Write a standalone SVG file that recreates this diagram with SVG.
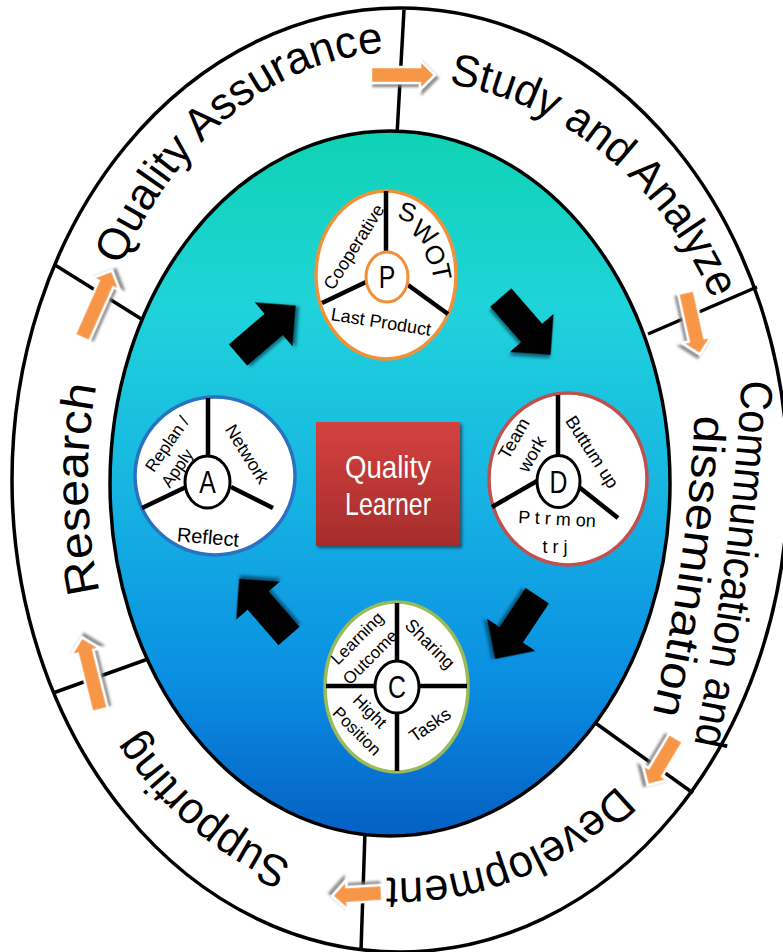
<svg xmlns="http://www.w3.org/2000/svg" width="783" height="952" viewBox="0 0 783 952">
<defs>
<style>
.ring{font-family:"Liberation Sans",Arial,sans-serif;font-size:45px;fill:#000}
.sm{font-family:"Liberation Sans",Arial,sans-serif;font-size:18px;fill:#000;text-anchor:middle}
.s17{font-size:17px}
.big{font-family:"Liberation Sans",Arial,sans-serif;font-size:31px;fill:#000;text-anchor:middle}
.spoke{stroke:#000;stroke-width:4.5;fill:none;stroke-linecap:butt}
.div{stroke:#000;stroke-width:3.5;fill:none}
.blk{fill:#000;filter:url(#bsh)}
.org{fill:#f79646;stroke:#fff;stroke-width:2.5;filter:url(#osh)}
.wt{font-family:"Liberation Sans",Arial,sans-serif;font-size:32px;fill:#fff;text-anchor:middle}
</style>
<linearGradient id="bg" x1="0" y1="0" x2="0" y2="1">
<stop offset="0" stop-color="#0fd3b3"/>
<stop offset="0.25" stop-color="#1fd3da"/>
<stop offset="0.5" stop-color="#17b6e2"/>
<stop offset="0.78" stop-color="#0a8ee2"/>
<stop offset="1" stop-color="#0560c4"/>
</linearGradient>
<linearGradient id="rg" x1="0" y1="0" x2="0" y2="1">
<stop offset="0" stop-color="#d4423f"/>
<stop offset="1" stop-color="#a52c2b"/>
</linearGradient>
<filter id="bsh" x="-30%" y="-30%" width="160%" height="160%"><feDropShadow dx="2" dy="3" stdDeviation="1.5" flood-color="#002a40" flood-opacity="0.6"/></filter>
<filter id="osh" x="-30%" y="-30%" width="160%" height="160%"><feDropShadow dx="2.5" dy="3" stdDeviation="1" flood-color="#777" flood-opacity="0.8"/></filter>
<filter id="rsh" x="-10%" y="-10%" width="120%" height="120%"><feDropShadow dx="2" dy="2" stdDeviation="1.5" flood-color="#223" flood-opacity="0.7"/></filter>
<path id="bA" d="M0,-14 H47 V-29 L76,0 L47,29 V14 H0 Z"/>
<path id="pQA" d="M121.1,266 A322,428 0 0 1 561,109.3"/>
<path id="pSA" d="M448.7,83.9 A350,400 0 0 1 744.7,410.5"/>
<path id="pCA" d="M742,372 Q733,557.5 692,755"/>
<path id="pDI" d="M695,405 Q689,570 645,745"/>
<path id="pDE" d="M617.3,784.9 A338,398 0 0 1 231,824.7"/>
<path id="pSU" d="M292,862 A335,405 0 0 1 66.3,515.3"/>
<path id="pRE" d="M99.8,592 A312,405 0 0 1 144.4,247.7"/>
</defs>
<rect width="783" height="952" fill="#fff"/>

<g id="outer-ring">
<ellipse cx="400" cy="480" rx="388" ry="472" fill="#fff" stroke="#000" stroke-width="3.5"/>
</g>

<g id="connectors">
<path class="div" d="M404,10 L397,135"/>
<path class="div" d="M648,334 L757,287"/>
<path class="div" d="M594,722 L693,793"/>
<path class="div" d="M365,832 L361,950"/>
<path class="div" d="M148,659 L53,693"/>
<path class="div" d="M55,265 L143,320"/>
</g>

<g id="inner-field">
<ellipse cx="390" cy="483.5" rx="280" ry="352.5" fill="url(#bg)" stroke="#000" stroke-width="3.5"/>
</g>

<g id="ring-labels">
<text class="ring"><textPath href="#pQA" textLength="356" lengthAdjust="spacingAndGlyphs">Quality Assurance</textPath></text>
<text class="ring"><textPath href="#pSA" textLength="355" lengthAdjust="spacingAndGlyphs">Study and Analyze</textPath></text>
<text class="ring"><textPath href="#pCA" startOffset="8" textLength="368" lengthAdjust="spacingAndGlyphs">Communication and</textPath></text>
<text class="ring"><textPath href="#pDI" startOffset="10" textLength="302" lengthAdjust="spacingAndGlyphs">dissemination</textPath></text>
<text class="ring"><textPath href="#pDE" textLength="256" lengthAdjust="spacingAndGlyphs">Development</textPath></text>
<text class="ring"><textPath href="#pSU" textLength="206" lengthAdjust="spacingAndGlyphs">Supporting</textPath></text>
<text class="ring" style="font-size:46px"><textPath href="#pRE" textLength="208" lengthAdjust="spacingAndGlyphs">Research</textPath></text>
</g>

<g id="cycle-arrows">
<path class="org" d="M0,-8 H49 V-15 L64,0 L49,15 V8 H0 Z" transform="translate(371,75)"/>
<path class="org" d="M0,-8 H49 V-15 L64,0 L49,15 V8 H0 Z" transform="translate(686,292) rotate(77.5)"/>
<path class="org" d="M0,-8 H40 V-15 L55,0 L40,15 V8 H0 Z" transform="translate(676,738) rotate(121)"/>
<path class="org" d="M0,-8 H35 V-15 L50,0 L35,15 V8 H0 Z" transform="translate(382,893) rotate(176.6)"/>
<path class="org" d="M0,-8 H60 V-15 L75,0 L60,15 V8 H0 Z" transform="translate(100,710) rotate(-104)"/>
<path class="org" d="M0,-8 H59 V-15 L74,0 L59,15 V8 H0 Z" transform="translate(82,338) rotate(-66)"/>
<use href="#bA" class="blk" transform="translate(238,355) rotate(-40.6)"/>
<use href="#bA" class="blk" transform="translate(500.8,297.5) rotate(49)"/>
<use href="#bA" class="blk" transform="translate(537.3,595.7) rotate(123.7)"/>
<use href="#bA" class="blk" transform="translate(289,636) rotate(-131)"/>
</g>

<g id="node-P">
<ellipse cx="386" cy="275" rx="70" ry="84" fill="#fff" stroke="#f0913a" stroke-width="3.5"/>
<path class="spoke" d="M386,191 V252 M366,282 L322,303 M408,285 L448,314"/>
<ellipse cx="387" cy="277" rx="21" ry="25" fill="#fff" stroke="#f0913a" stroke-width="3"/>
<text class="big" transform="translate(387,288) scale(0.8,1)">P</text>
<g style="font-family:'Liberation Sans',Arial,sans-serif;font-size:26px;text-anchor:middle" dominant-baseline="central">
<text transform="translate(407.5,212) rotate(18)">S</text>
<text transform="translate(424.5,232.5) rotate(40)">W</text>
<text transform="translate(435,255) rotate(62)">O</text>
<text transform="translate(441.5,272) rotate(78)">T</text>
</g>
<text class="sm" transform="translate(354,247) rotate(-57.5)" y="6">Cooperative</text>
<text class="sm" transform="translate(381,322) rotate(9)" y="6">Last Product</text>
</g>

<g id="node-D">
<ellipse cx="568" cy="479" rx="79" ry="86" fill="#fff" stroke="#c0504d" stroke-width="3.5"/>
<path class="spoke" d="M558,395 V456 M537,481 L492,507 M579,487 L618,518"/>
<ellipse cx="558.5" cy="481.5" rx="21.5" ry="26" fill="#fff" stroke="#000" stroke-width="3"/>
<text class="big" transform="translate(558.5,493) scale(0.8,1)">D</text>
<text class="sm" transform="translate(514,438.5) rotate(-60)" y="6">Team</text>
<text class="sm" transform="translate(532,454) rotate(-60)" y="6">work</text>
<text class="sm" transform="translate(592,452) rotate(57)" y="6">Buttum up</text>
<text class="sm" transform="translate(557,519) rotate(3)" y="6">P t r m on</text>
<text class="sm" transform="translate(555,547)" y="6">t r j</text>
</g>

<g id="node-A">
<ellipse cx="215" cy="476" rx="80" ry="79" fill="#fff" stroke="#2a72c0" stroke-width="3.5"/>
<path class="spoke" d="M208,398 V456 M186,487 L142,508 M231,487 L273,508"/>
<ellipse cx="207.5" cy="482" rx="22.5" ry="26" fill="#fff" stroke="#000" stroke-width="3"/>
<text class="big" transform="translate(207.5,493) scale(0.8,1)">A</text>
<text class="sm s17" transform="translate(167,444) rotate(-55)" y="6">Replan /</text>
<text class="sm s17" transform="translate(177,468) rotate(-55)" y="6">Apply</text>
<text class="sm" transform="translate(247,454) rotate(58)" y="6">Network</text>
<text class="sm" style="font-size:20px" transform="translate(208,537) rotate(5)" y="7">Reflect</text>
</g>

<g id="node-C">
<ellipse cx="396.5" cy="687" rx="71.5" ry="85" fill="#fff" stroke="#9bbb59" stroke-width="3.5"/>
<path class="spoke" d="M397,603 V661 M397,713 V771 M326,686 H375 M419,686 H467"/>
<ellipse cx="397" cy="687" rx="22" ry="26" fill="#fff" stroke="#000" stroke-width="3"/>
<text class="big" transform="translate(397,698) scale(0.8,1)">C</text>
<text class="sm s17" transform="translate(357,638) rotate(-45)" y="6">Learning</text>
<text class="sm s17" transform="translate(370,657) rotate(-45)" y="6">Outcome</text>
<text class="sm" transform="translate(430,644) rotate(45)" y="6">Sharing</text>
<text class="sm s17" transform="translate(370,711) rotate(45)" y="6">Hight</text>
<text class="sm s17" transform="translate(357,731) rotate(45)" y="6">Position</text>
<text class="sm" transform="translate(430,725) rotate(-35)" y="6">Tasks</text>
</g>

<g id="node-center">
<rect x="316" y="422" width="144" height="124" fill="url(#rg)" filter="url(#rsh)"/>
<text class="wt" x="388" y="478" textLength="86" lengthAdjust="spacingAndGlyphs">Quality</text>
<text class="wt" x="388" y="515" textLength="86" lengthAdjust="spacingAndGlyphs">Learner</text>
</g>
</svg>
